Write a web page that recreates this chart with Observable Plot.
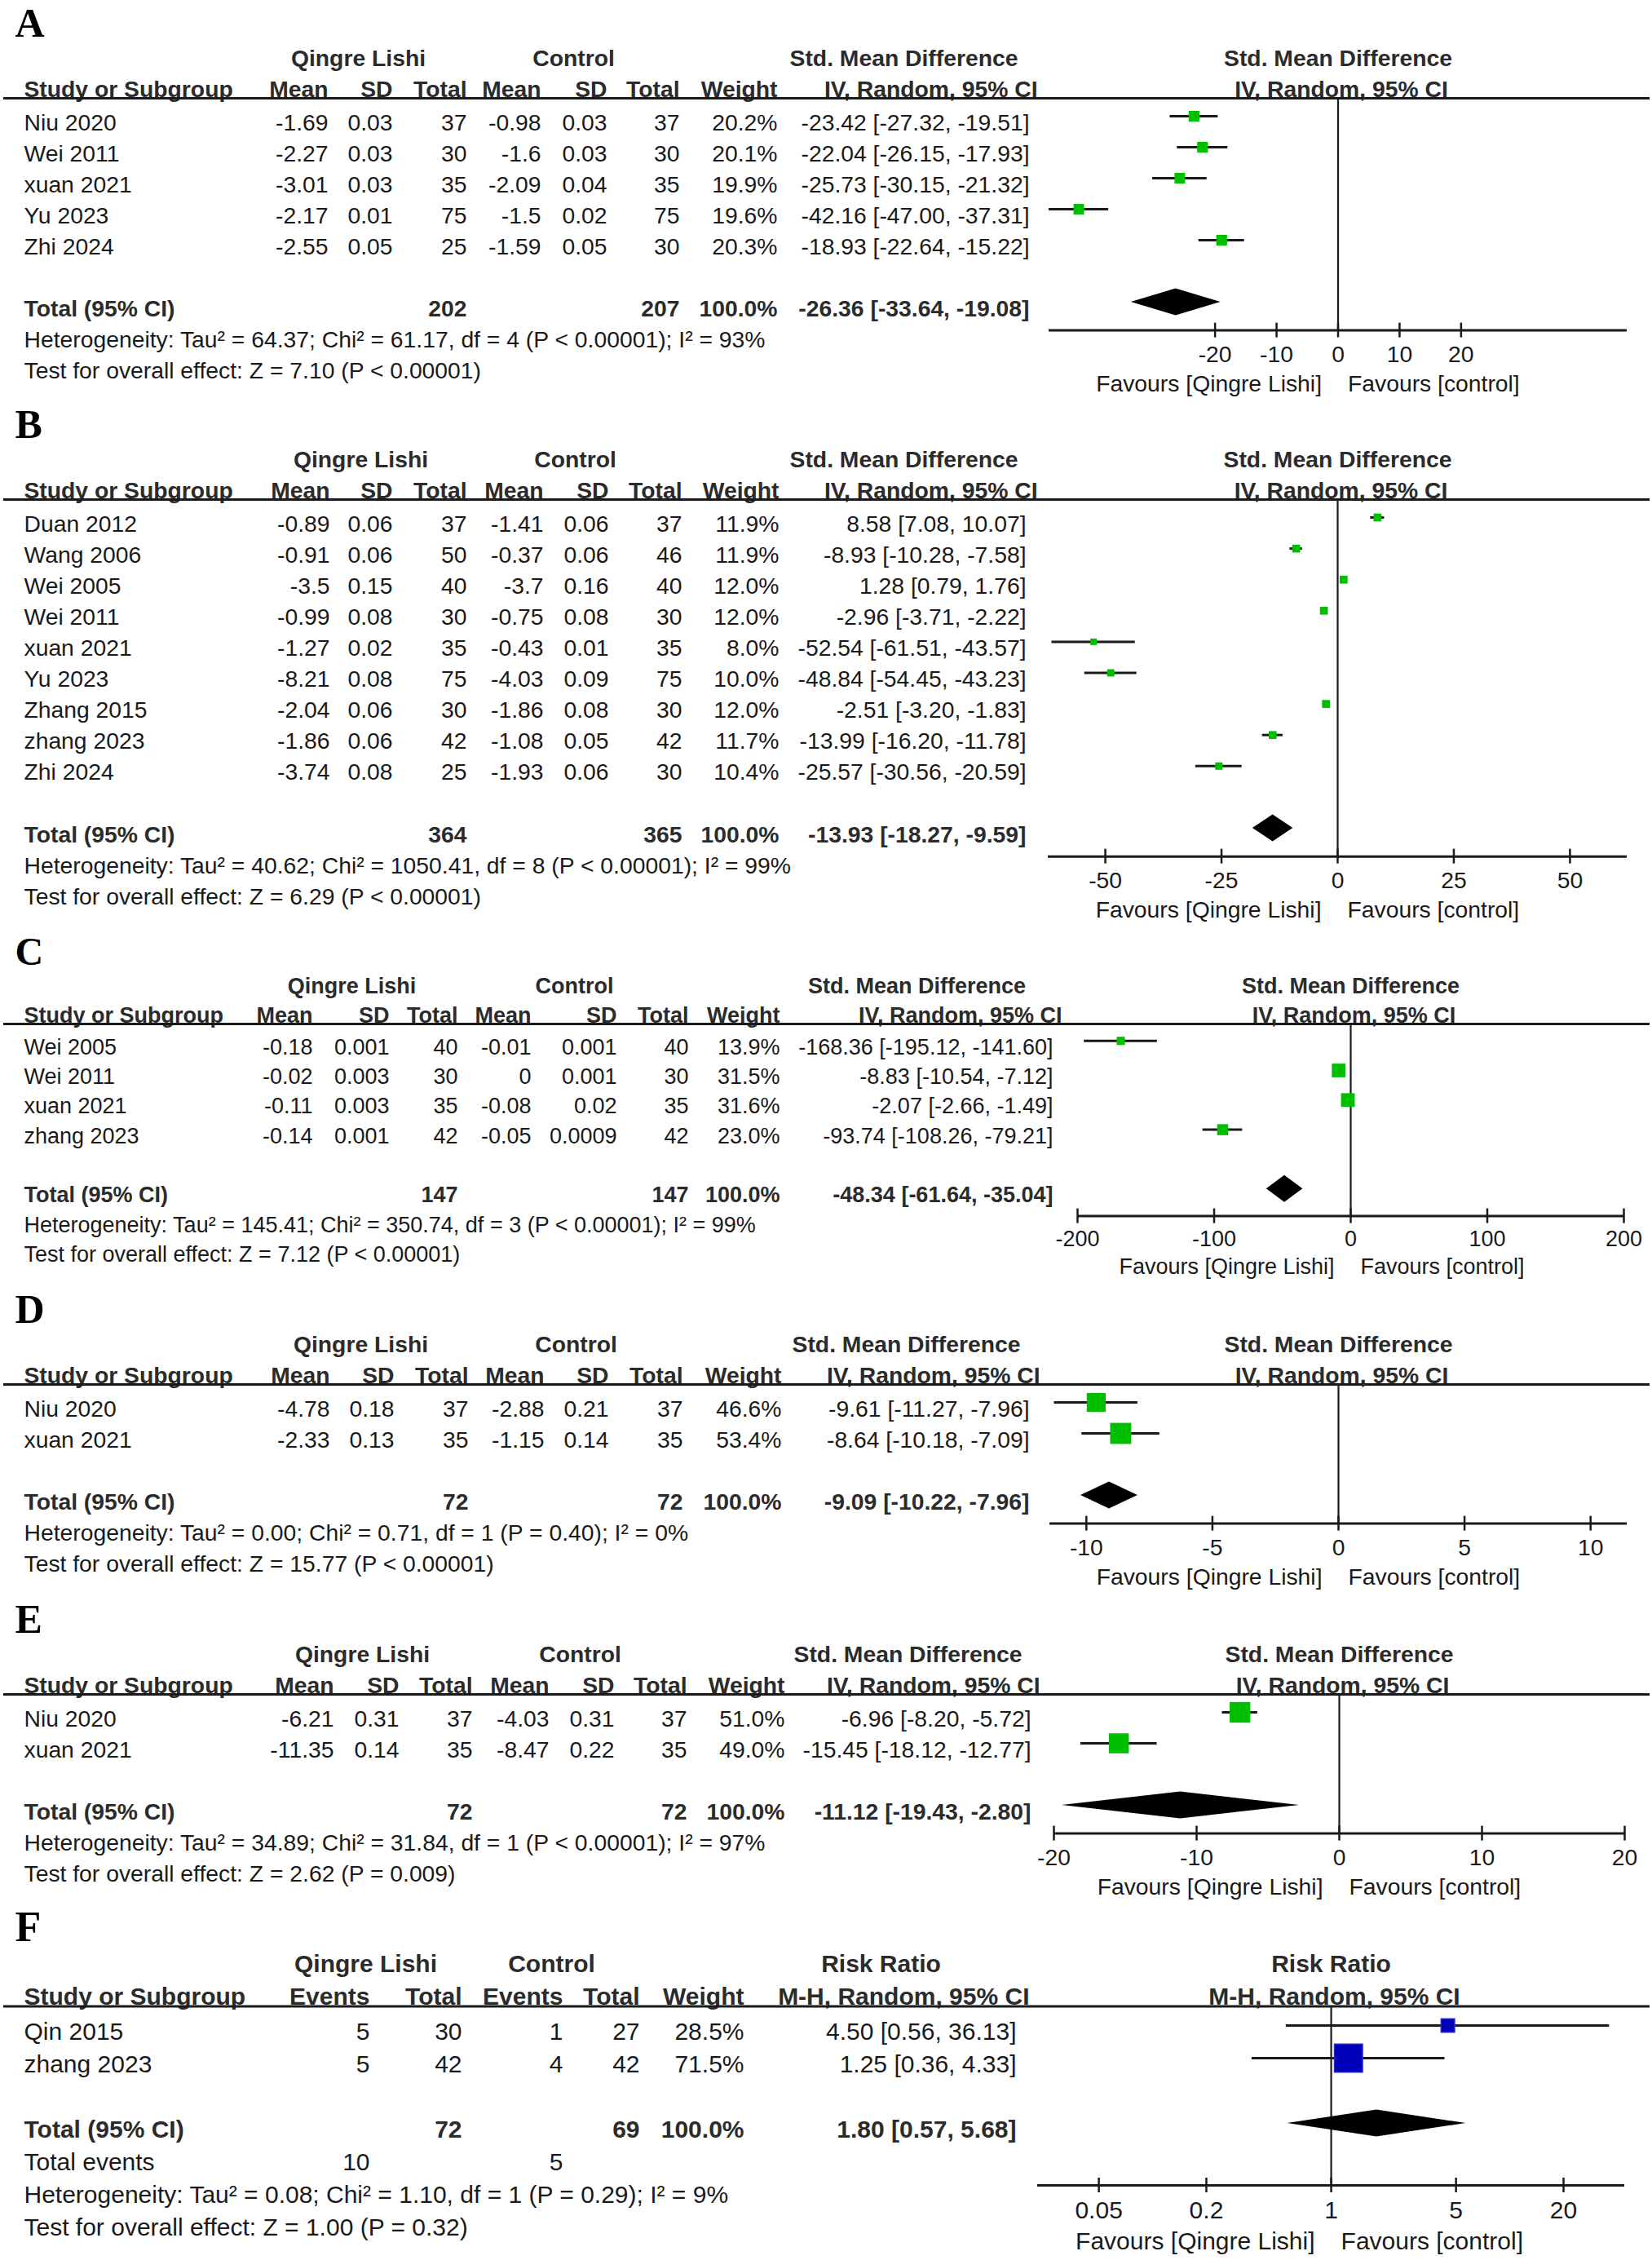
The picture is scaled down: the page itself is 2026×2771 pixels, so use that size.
<!DOCTYPE html>
<html>
<head>
<meta charset="utf-8">
<script src="https://cdn.jsdelivr.net/npm/d3@7"></script>
<script src="https://cdn.jsdelivr.net/npm/@observablehq/plot@0.6"></script>
<style>
  html, body { margin: 0; padding: 0; background: #fff; }
  #chart { position: relative; width: 2026px; height: 2771px; overflow: hidden; background: #fff; }
  #chart svg { position: absolute; left: 0; }
</style>
</head>
<body>
<div id="chart"></div>
<script>
// ---------------- DATA ----------------
// Panel A
const studyA = ["Niu 2020", "Wei 2011", "xuan 2021", "Yu 2023", "Zhi 2024"];
const expMeanA = [-1.69, -2.27, -3.01, -2.17, -2.55];
const expSdA = [0.03, 0.03, 0.03, 0.01, 0.05];
const expNA = [37, 30, 35, 75, 25];
const ctlMeanA = [-0.98, -1.6, -2.09, -1.5, -1.59];
const ctlSdA = [0.03, 0.03, 0.04, 0.02, 0.05];
const ctlNA = [37, 30, 35, 75, 30];
const weightA = [20.2, 20.1, 19.9, 19.6, 20.3];
const smdA = [-23.42, -22.04, -25.73, -42.16, -18.93];
const lowA = [-27.32, -26.15, -30.15, -47.00, -22.64];
const highA = [-19.51, -17.93, -21.32, -37.31, -15.22];
const totalNA = [202, 207];
const pooledA = [-26.36, -33.64, -19.08];
const hetA = "Heterogeneity: Tau² = 64.37; Chi² = 61.17, df = 4 (P < 0.00001); I² = 93%";
const testA = "Test for overall effect: Z = 7.10 (P < 0.00001)";
const ticksA = [-20, -10, 0, 10, 20];
const domainA = [-47, 47];

// Panel B
const studyB = ["Duan 2012", "Wang 2006", "Wei 2005", "Wei 2011", "xuan 2021", "Yu 2023", "Zhang 2015", "zhang 2023", "Zhi 2024"];
const expMeanB = [-0.89, -0.91, -3.5, -0.99, -1.27, -8.21, -2.04, -1.86, -3.74];
const expSdB = [0.06, 0.06, 0.15, 0.08, 0.02, 0.08, 0.06, 0.06, 0.08];
const expNB = [37, 50, 40, 30, 35, 75, 30, 42, 25];
const ctlMeanB = [-1.41, -0.37, -3.7, -0.75, -0.43, -4.03, -1.86, -1.08, -1.93];
const ctlSdB = [0.06, 0.06, 0.16, 0.08, 0.01, 0.09, 0.08, 0.05, 0.06];
const ctlNB = [37, 46, 40, 30, 35, 75, 30, 42, 30];
const weightB = [11.9, 11.9, 12.0, 12.0, 8.0, 10.0, 12.0, 11.7, 10.4];
const smdB = [8.58, -8.93, 1.28, -2.96, -52.54, -48.84, -2.51, -13.99, -25.57];
const lowB = [7.08, -10.28, 0.79, -3.71, -61.51, -54.45, -3.20, -16.20, -30.56];
const highB = [10.07, -7.58, 1.76, -2.22, -43.57, -43.23, -1.83, -11.78, -20.59];
const totalNB = [364, 365];
const pooledB = [-13.93, -18.27, -9.59];
const hetB = "Heterogeneity: Tau² = 40.62; Chi² = 1050.41, df = 8 (P < 0.00001); I² = 99%";
const testB = "Test for overall effect: Z = 6.29 (P < 0.00001)";
const ticksB = [-50, -25, 0, 25, 50];
const domainB = [-62.3, 62.3];

// Panel C
const studyC = ["Wei 2005", "Wei 2011", "xuan 2021", "zhang 2023"];
const expMeanC = [-0.18, -0.02, -0.11, -0.14];
const expSdC = [0.001, 0.003, 0.003, 0.001];
const expNC = [40, 30, 35, 42];
const ctlMeanC = [-0.01, 0, -0.08, -0.05];
const ctlSdC = [0.001, 0.001, 0.02, 0.0009];
const ctlNC = [40, 30, 35, 42];
const weightC = [13.9, 31.5, 31.6, 23.0];
const smdC = [-168.36, -8.83, -2.07, -93.74];
const lowC = [-195.12, -10.54, -2.66, -108.26];
const highC = [-141.60, -7.12, -1.49, -79.21];
const totalNC = [147, 147];
const pooledC = [-48.34, -61.64, -35.04];
const hetC = "Heterogeneity: Tau² = 145.41; Chi² = 350.74, df = 3 (P < 0.00001); I² = 99%";
const testC = "Test for overall effect: Z = 7.12 (P < 0.00001)";
const ticksC = [-200, -100, 0, 100, 200];
const domainC = [-200, 200];

// Panel D
const studyD = ["Niu 2020", "xuan 2021"];
const expMeanD = [-4.78, -2.33];
const expSdD = [0.18, 0.13];
const expND = [37, 35];
const ctlMeanD = [-2.88, -1.15];
const ctlSdD = [0.21, 0.14];
const ctlND = [37, 35];
const weightD = [46.6, 53.4];
const smdD = [-9.61, -8.64];
const lowD = [-11.27, -10.18];
const highD = [-7.96, -7.09];
const totalND = [72, 72];
const pooledD = [-9.09, -10.22, -7.96];
const hetD = "Heterogeneity: Tau² = 0.00; Chi² = 0.71, df = 1 (P = 0.40); I² = 0%";
const testD = "Test for overall effect: Z = 15.77 (P < 0.00001)";
const ticksD = [-10, -5, 0, 5, 10];
const domainD = [-11.45, 11.45];

// Panel E
const studyE = ["Niu 2020", "xuan 2021"];
const expMeanE = [-6.21, -11.35];
const expSdE = [0.31, 0.14];
const expNE = [37, 35];
const ctlMeanE = [-4.03, -8.47];
const ctlSdE = [0.31, 0.22];
const ctlNE = [37, 35];
const weightE = [51.0, 49.0];
const smdE = [-6.96, -15.45];
const lowE = [-8.20, -18.12];
const highE = [-5.72, -12.77];
const totalNE = [72, 72];
const pooledE = [-11.12, -19.43, -2.80];
const hetE = "Heterogeneity: Tau² = 34.89; Chi² = 31.84, df = 1 (P < 0.00001); I² = 97%";
const testE = "Test for overall effect: Z = 2.62 (P = 0.009)";
const ticksE = [-20, -10, 0, 10, 20];
const domainE = [-20, 20];

// Panel F (risk ratio)
const studyF = ["Qin 2015", "zhang 2023"];
const expEventsF = [5, 5];
const expNF = [30, 42];
const ctlEventsF = [1, 4];
const ctlNF = [27, 42];
const weightF = [28.5, 71.5];
const rrF = [4.50, 1.25];
const lowF = [0.56, 0.36];
const highF = [36.13, 4.33];
const totalNF = [72, 69];
const totalEventsF = [10, 5];
const pooledF = [1.80, 0.57, 5.68];
const hetF = "Heterogeneity: Tau² = 0.08; Chi² = 1.10, df = 1 (P = 0.29); I² = 9%";
const testF = "Test for overall effect: Z = 1.00 (P = 0.32)";
const ticksF = [0.05, 0.2, 1, 5, 20];
const domainF = [0.0227, 44];

const smdGroups = ["Qingre Lishi", "Control", "Std. Mean Difference"];
const smdHeads = ["Mean", "SD", "Total", "Mean", "SD", "Total", "Weight", "IV, Random, 95% CI"];
const smdTitle = ["Std. Mean Difference", "IV, Random, 95% CI"];
const rrGroups = ["Qingre Lishi", "Control", "Risk Ratio"];
const rrHeads = ["Events", "Total", "Events", "Total", "Weight", "M-H, Random, 95% CI"];
const rrTitle = ["Risk Ratio", "M-H, Random, 95% CI"];
const favours = ["Favours [Qingre Lishi]", "Favours [control]"];

// ---------------- LAYOUT ----------------
const SANS = "'Liberation Sans', Arial, Helvetica, sans-serif";
const SERIF = "'Liberation Serif', 'Times New Roman', serif";
const INK = "#1a1a1a", HEAD = "#2b2b2b", GREEN = "#00bf00", BLUE = "#0000bb";

const layouts = {
  A: {top: 0, bottom: 492, first: 150, spacing: 38, font: 28.3, letterSize: 50, box: 1,
      cols: [402, 481, 572, 663, 744, 833, 953, 1262], ciHead: 1272, groups: [439, 703, 1108], xRange: [1286, 1995]},
  B: {top: 492, bottom: 1140, first: 642, spacing: 38.1, font: 28.3, letterSize: 50, box: 1,
      cols: [404, 481, 572, 666, 746, 836, 955, 1258], ciHead: 1272, groups: [442, 705, 1108], xRange: [1285, 1995]},
  C: {top: 1140, bottom: 1578, first: 1283.7, spacing: 36.3, font: 27, letterSize: 48, box: 0.92,
      cols: [383, 477, 561, 651, 756, 844, 956, 1291], ciHead: 1302, groups: [431, 704, 1124], xRange: [1321, 1991]},
  D: {top: 1578, bottom: 1958, first: 1727, spacing: 38, font: 28.3, letterSize: 50, box: 0.95,
      cols: [404, 483, 574, 667, 746, 837, 958, 1262], ciHead: 1275, groups: [442, 706, 1111], xRange: [1287, 1995]},
  E: {top: 1958, bottom: 2332, first: 2107, spacing: 38, font: 28.3, letterSize: 50, box: 0.97,
      cols: [409, 489, 579, 673, 753, 842, 962, 1264], ciHead: 1275, groups: [444, 711, 1113], xRange: [1292, 1992]},
  F: {top: 2332, bottom: 2771, first: 2491, spacing: 40, font: 30, letterSize: 52, box: 1,
      cols: [453, 566, 690, 784, 912, 1246], ciHead: 1262, groups: [448, 676, 1080], xRange: [1272, 1992]}
};

const panels = [
  {letter: "A", kind: "smd", studies: studyA, cells: [expMeanA, expSdA, expNA, ctlMeanA, ctlSdA, ctlNA], weight: weightA, est: smdA, lo: lowA, hi: highA, totals: totalNA, pooled: pooledA, het: hetA, test: testA, ticks: ticksA, domain: domainA},
  {letter: "B", kind: "smd", studies: studyB, cells: [expMeanB, expSdB, expNB, ctlMeanB, ctlSdB, ctlNB], weight: weightB, est: smdB, lo: lowB, hi: highB, totals: totalNB, pooled: pooledB, het: hetB, test: testB, ticks: ticksB, domain: domainB},
  {letter: "C", kind: "smd", studies: studyC, cells: [expMeanC, expSdC, expNC, ctlMeanC, ctlSdC, ctlNC], weight: weightC, est: smdC, lo: lowC, hi: highC, totals: totalNC, pooled: pooledC, het: hetC, test: testC, ticks: ticksC, domain: domainC},
  {letter: "D", kind: "smd", studies: studyD, cells: [expMeanD, expSdD, expND, ctlMeanD, ctlSdD, ctlND], weight: weightD, est: smdD, lo: lowD, hi: highD, totals: totalND, pooled: pooledD, het: hetD, test: testD, ticks: ticksD, domain: domainD},
  {letter: "E", kind: "smd", studies: studyE, cells: [expMeanE, expSdE, expNE, ctlMeanE, ctlSdE, ctlNE], weight: weightE, est: smdE, lo: lowE, hi: highE, totals: totalNE, pooled: pooledE, het: hetE, test: testE, ticks: ticksE, domain: domainE},
  {letter: "F", kind: "rr", studies: studyF, cells: [expEventsF, expNF, ctlEventsF, ctlNF], weight: weightF, est: rrF, lo: lowF, hi: highF, totals: totalNF, events: totalEventsF, pooled: pooledF, het: hetF, test: testF, ticks: ticksF, domain: domainF}
];

const fmtW = v => v.toFixed(1) + "%";
const fmtCI = (e, l, h) => `${e.toFixed(2)} [${l.toFixed(2)}, ${h.toFixed(2)}]`;

function buildPanel(p, L) {
  const n = p.studies.length;
  const rr = p.kind === "rr";
  const groups = rr ? rrGroups : smdGroups;
  const heads = rr ? rrHeads : smdHeads;
  const title = rr ? rrTitle : smdTitle;
  const totalRow = n + 1, evRow = n + 2;
  const hetRow = rr ? n + 3 : n + 2, testRow = hetRow + 1;
  const axisRow = hetRow - 0.3, tickRow = axisRow + 0.78, favRow = axisRow + 1.72;
  const lineRow = -0.79, head1 = -2.07, head2 = -1.07, letterRow = -3.2;
  const fs = L.font;
  const rows = d3.range(n);
  const ref = rr ? 1 : 0;
  const mid = rr ? Math.sqrt(p.domain[0] * p.domain[1]) : (p.domain[0] + p.domain[1]) / 2;
  const hd = 16.5 / L.spacing, tk = 9 / L.spacing;
  const nc = L.cols.length;
  const wCol = nc - 2, ciCol = nc - 1;
  const totCols = rr ? [1, 3] : [2, 5];
  const evCols = [0, 2];

  const T = (rowsArr, texts, px, anchor, bold, extra = {}) =>
    Plot.text(rowsArr.map((r, i) => ({r, t: texts[i]})), {
      y: "r", text: "t", frameAnchor: "left", dx: px, textAnchor: anchor,
      fontSize: fs, fontFamily: SANS, fontWeight: bold ? "bold" : "normal",
      fill: bold ? HEAD : INK, ...extra
    });

  const marks = [];
  // panel letter
  marks.push(T([letterRow], [p.letter], 18, "start", true, {fontFamily: SERIF, fontSize: L.letterSize, fill: "#000"}));
  // group headers
  groups.forEach((g, k) => marks.push(T([head1], [g], L.groups[k], "middle", true)));
  // column headers
  marks.push(T([head2], ["Study or Subgroup"], 29, "start", true));
  heads.forEach((h, k) => marks.push(T([head2], [h], k === heads.length - 1 ? L.ciHead : L.cols[k], "end", true)));
  // header rule across the full width
  marks.push(Plot.ruleY([lineRow], {stroke: INK, strokeWidth: 3, insetLeft: 4, insetRight: 3}));
  // study rows
  marks.push(T(rows, p.studies, 29, "start", false));
  p.cells.forEach((arr, k) => marks.push(T(rows, arr.map(String), L.cols[k], "end", false)));
  marks.push(T(rows, p.weight.map(fmtW), L.cols[wCol], "end", false));
  marks.push(T(rows, rows.map(i => fmtCI(p.est[i], p.lo[i], p.hi[i])), L.cols[ciCol], "end", false));
  // total row
  marks.push(T([totalRow], ["Total (95% CI)"], 29, "start", true));
  p.totals.forEach((v, k) => marks.push(T([totalRow], [String(v)], L.cols[totCols[k]], "end", true)));
  marks.push(T([totalRow], [fmtW(100)], L.cols[wCol], "end", true));
  marks.push(T([totalRow], [fmtCI(p.pooled[0], p.pooled[1], p.pooled[2])], L.cols[ciCol], "end", true));
  if (rr) {
    marks.push(T([evRow], ["Total events"], 29, "start", false));
    p.events.forEach((v, k) => marks.push(T([evRow], [String(v)], L.cols[evCols[k]], "end", false)));
  }
  marks.push(T([hetRow], [p.het], 29, "start", false));
  marks.push(T([testRow], [p.test], 29, "start", false));

  // forest titles
  marks.push(Plot.text([title[0]], {x: () => mid, y: () => head1, text: d => d, textAnchor: "middle", fontSize: fs, fontFamily: SANS, fontWeight: "bold", fill: HEAD}));
  marks.push(Plot.text([title[1]], {x: () => mid, y: () => head2, text: d => d, textAnchor: "middle", dx: 4, fontSize: fs, fontFamily: SANS, fontWeight: "bold", fill: HEAD}));

  // forest
  const st = rows.map(i => ({row: i, est: p.est[i], lo: p.lo[i], hi: p.hi[i], w: p.weight[i] * L.box}));
  const diamond = [
    {x: p.pooled[1], y1: totalRow, y2: totalRow},
    {x: p.pooled[0], y1: totalRow - hd, y2: totalRow + hd},
    {x: p.pooled[2], y1: totalRow, y2: totalRow}
  ];
  marks.push(Plot.ruleX([ref], {x: d => d, y1: lineRow, y2: axisRow, stroke: INK, strokeWidth: 2.2}));
  marks.push(Plot.ruleY(st, {x1: "lo", x2: "hi", y: "row", dy: -8, stroke: INK, strokeWidth: 3}));
  marks.push(Plot.dot(st, {x: "est", y: "row", r: "w", symbol: "square", dy: -8,
    fill: rr ? BLUE : GREEN, stroke: rr ? "#2a2ac8" : "none", strokeWidth: rr ? 1.5 : 0}));
  marks.push(Plot.areaY(diamond, {x: "x", y1: "y1", y2: "y2", dy: -8, fill: "#000"}));
  // axis
  marks.push(Plot.ruleY([axisRow], {x1: p.domain[0], x2: p.domain[1], y: d => d, stroke: INK, strokeWidth: 3}));
  marks.push(Plot.ruleX(p.ticks, {x: d => d, y1: axisRow - tk, y2: axisRow + tk, stroke: INK, strokeWidth: 2.5}));
  marks.push(Plot.text(p.ticks, {x: d => d, y: () => tickRow, text: d => String(d), textAnchor: "middle", fontSize: fs, fontFamily: SANS, fill: INK}));
  marks.push(Plot.text([favours[0]], {x: () => ref, y: () => favRow, text: d => d, textAnchor: "end", dx: -20, fontSize: fs, fontFamily: SANS, fill: INK}));
  marks.push(Plot.text([favours[1]], {x: () => ref, y: () => favRow, text: d => d, textAnchor: "start", dx: 12, fontSize: fs, fontFamily: SANS, fill: INK}));

  const svg = Plot.plot({
    width: 2026,
    height: L.bottom - L.top,
    marginLeft: 0, marginRight: 0, marginTop: 0, marginBottom: 0,
    x: {type: rr ? "log" : "linear", domain: p.domain, range: L.xRange, axis: null},
    y: {type: "linear", domain: [0, 1], range: [L.first - L.top, L.first - L.top + L.spacing], axis: null},
    r: {type: "linear", domain: [0, 100], range: [4.7 / Math.sqrt(Math.PI), 46.4 / Math.sqrt(Math.PI)]},
    style: {background: "transparent", overflow: "visible", fontFamily: SANS},
    marks
  });
  svg.style.top = L.top + "px";
  return svg;
}

const chart = document.getElementById("chart");
panels.forEach(p => chart.appendChild(buildPanel(p, layouts[p.letter])));
</script>
</body>
</html>
